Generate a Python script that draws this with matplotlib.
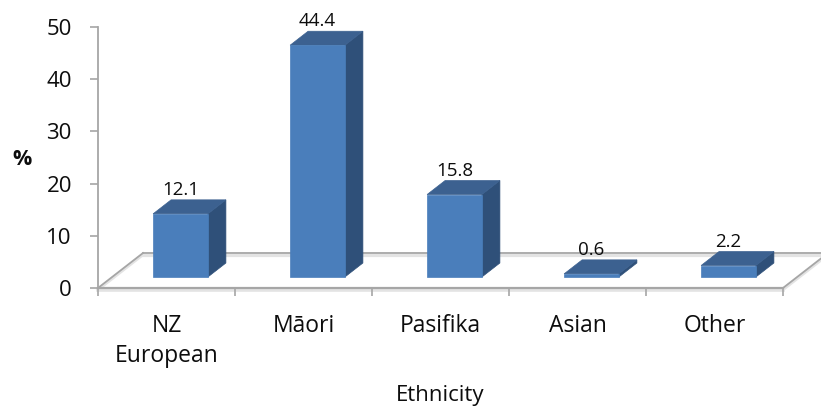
import matplotlib
matplotlib.use("Agg")
import matplotlib.pyplot as plt
from matplotlib.patches import Polygon, Rectangle
from matplotlib.lines import Line2D

plt.rcParams['font.family'] = ['Open Sans', 'DejaVu Sans']

categories = ["NZ\nEuropean", "Māori", "Pasifika", "Asian", "Other"]
values = [12.1, 44.4, 15.8, 0.6, 2.2]
value_labels = ["12.1", "44.4", "15.8", "0.6", "2.2"]
y_ticks = [0, 10, 20, 30, 40, 50]

FRONT = "#4A7EBB"
SIDE = "#2F5079"
TOP = "#3C6190"
GRID = "#A6A6A6"
TEXT = "#0d0d0d"

W, H, DPI = 821, 407, 100
fig = plt.figure(figsize=(W / DPI, H / DPI), dpi=DPI)
ax = fig.add_axes([98 / W, (H - 288) / H, 685 / W, 261 / H])
ax.set_xlim(-0.5, len(categories) - 0.5)
ax.set_ylim(0, 50)

# pixel -> data conversion for the oblique depth offsets
px_x = (685 / 100 * DPI) / len(categories)   # pixels per category
px_y = (261 / 100 * DPI) / 50                # pixels per unit
def dx(p):
    return p / px_x
def dy(p):
    return p / px_y

# floor (oblique plane)
x_lo, x_hi = -0.5, len(categories) - 0.5
fx, fy = dx(45), dy(35)
floor = Polygon([(x_lo, 0), (x_hi, 0), (x_hi + fx, fy), (x_lo + fx, fy)],
                closed=True, facecolor="white", edgecolor="none",
                clip_on=False, zorder=1)
ax.add_patch(floor)
for (xs, ys, lw) in [
    ([x_lo, x_lo + fx], [0, fy], 1.3),
    ([x_lo + fx, x_hi + fx], [fy, fy], 1.3),
    ([x_hi, x_hi + fx], [0, fy], 1.3),
    ([x_lo, x_hi], [0, 0], 1.6),
]:
    ax.add_line(Line2D(xs, [y - dy(1.5) for y in ys], color="#E3E3E3",
                       lw=lw + 1, clip_on=False, zorder=1.5))
    ax.add_line(Line2D(xs, ys, color=GRID, lw=lw, clip_on=False, zorder=2))

# bars with depth
bw = 0.2
d1x, d1y = dx(14), dy(11)
d2x, d2y = dx(18), dy(14)
for i, v in enumerate(values):
    x0, x1 = i - bw + d1x, i + bw + d1x
    y0, y1 = d1y, v + d1y
    ax.add_patch(Polygon([(x1, y0), (x1 + d2x, y0 + d2y),
                          (x1 + d2x, y1 + d2y), (x1, y1)],
                         closed=True, facecolor=SIDE, edgecolor=SIDE,
                         lw=0.5, clip_on=False, zorder=3))
    ax.add_patch(Polygon([(x0, y1), (x1, y1), (x1 + d2x, y1 + d2y),
                          (x0 + d2x, y1 + d2y)],
                         closed=True, facecolor=TOP, edgecolor=TOP,
                         lw=0.5, clip_on=False, zorder=3))
    ax.add_patch(Rectangle((x0, y0), x1 - x0, y1 - y0, facecolor=FRONT,
                           edgecolor=FRONT, lw=0.5, clip_on=False, zorder=4))
    ax.annotate(value_labels[i], (i, v), xytext=(14 * 0.72, 35 * 0.72),
                textcoords="offset points", ha="center", va="center",
                fontsize=13.5, color=TEXT, zorder=5)

# axes styling
for s in ["top", "right", "bottom"]:
    ax.spines[s].set_visible(False)
ax.spines["left"].set_color(GRID)
ax.spines["left"].set_linewidth(1.3)

ax.set_yticks(y_ticks)
ax.set_yticklabels([str(t) for t in y_ticks])
ax.tick_params(axis="y", direction="out", length=5.8, width=1.2,
               color=GRID, pad=13, labelsize=16, labelcolor=TEXT)

ax.set_xticks(range(len(categories)))
ax.set_xticklabels(categories, linespacing=1.3)
ax.set_xticks([k - 0.5 for k in range(len(categories) + 1)], minor=True)
ax.tick_params(axis="x", which="major", length=0, pad=19, labelsize=16.5,
               labelcolor=TEXT)
ax.tick_params(axis="x", which="minor", direction="out", length=6,
               width=1.2, color=GRID)

ax.set_xlabel("Ethnicity", fontsize=16, color=TEXT, labelpad=12.5)
fig.text(22 / W, 1 - 160 / H, "%", fontsize=15.5, fontweight="bold",
         ha="center", va="center", color=TEXT)

fig.savefig("out.png", dpi=DPI)
